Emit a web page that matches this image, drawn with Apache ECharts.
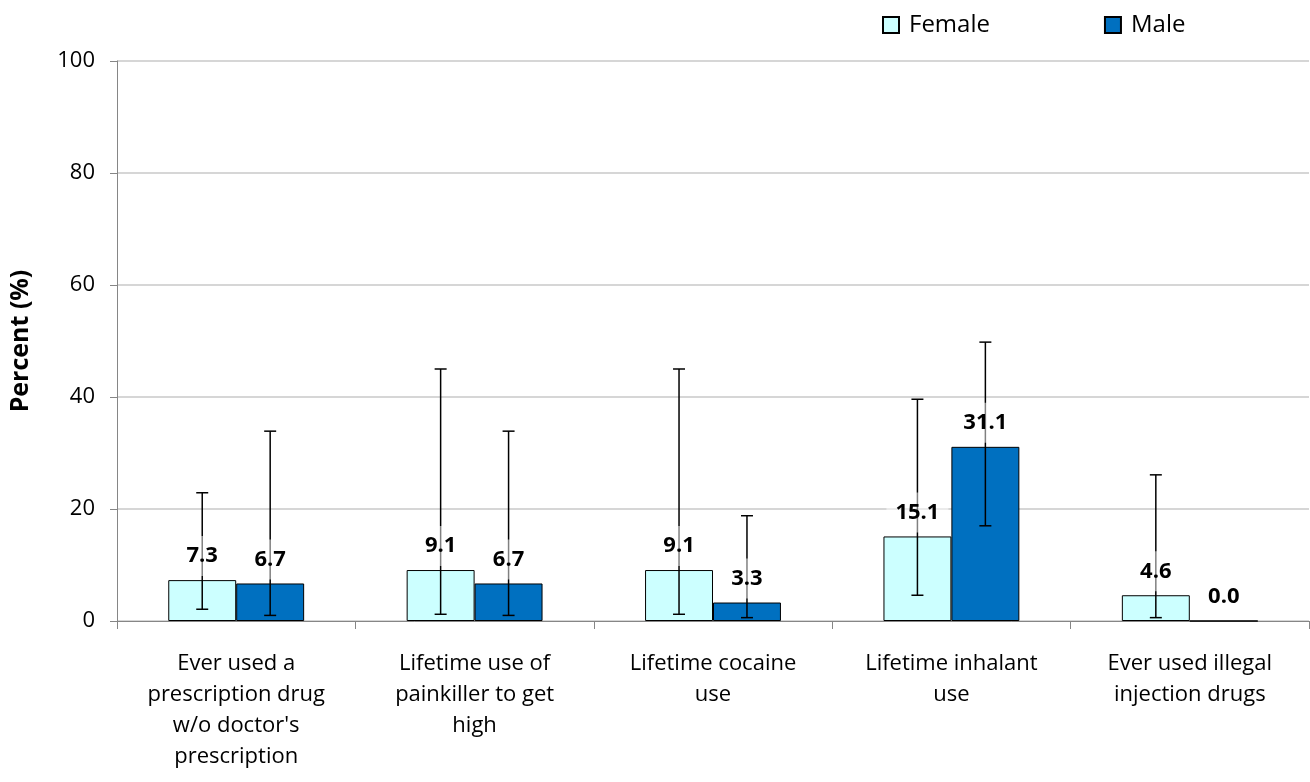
<!DOCTYPE html>
<html>
<head>
<meta charset="utf-8">
<script src="https://cdn.jsdelivr.net/npm/echarts@6/dist/echarts.min.js"></script>
<style>
    html, body { margin: 0; padding: 0; background: #fff; }
    #chart { width: 1310px; height: 782px; }
</style>
</head>
<body>
<div id="chart"></div>
<script>
var categories = [
    "Ever used a\nprescription drug\nw/o doctor's\nprescription",
    "Lifetime use of\npainkiller to get\nhigh",
    "Lifetime cocaine\nuse",
    "Lifetime inhalant\nuse",
    "Ever used illegal\ninjection drugs"
];
var femaleValues = [7.3, 9.1, 9.1, 15.1, 4.6];
var maleValues = [6.7, 6.7, 3.3, 31.1, 0.0];
// intervalles de confiance
var femaleLow = [2.1, 1.2, 1.2, 4.6, 0.6];
var femaleHigh = [22.9, 45.0, 45.0, 39.6, 26.1];
var maleLow = [1.0, 1.0, 0.6, 17.0, null];
var maleHigh = [33.9, 33.9, 18.8, 49.8, null];
var yTicks = [0, 20, 40, 60, 80, 100];

var FONT = '"Open Sans", "Noto Sans", sans-serif';
var GAP = 0.43;

// données pour les barres d'erreur + étiquettes
function errorData(vals, lows, highs) {
    var arr = [];
    for (var i = 0; i < vals.length; i++) {
        arr.push([i, lows[i], highs[i], vals[i]]);
    }
    return arr;
}

function makeRender(side) {
    return function (params, api) {
        var idx = api.value(0);
        var lo = api.value(1);
        var hi = api.value(2);
        var v = api.value(3);
        var band = api.size([1, 0])[0];
        var off = band * (1 - GAP) / 4 * side;
        var vp = api.coord([idx, v]);
        var x = vp[0] + off;
        var children = [];
        var lineStyle = { stroke: '#000', lineWidth: 1.5 };
        if (!isNaN(lo) && !isNaN(hi) && lo !== null && hi !== null) {
            var top = api.coord([idx, hi])[1];
            var bot = api.coord([idx, lo])[1];
            children.push({ type: 'line', shape: { x1: x, y1: top, x2: x, y2: bot }, style: lineStyle });
            children.push({ type: 'line', shape: { x1: x - 6, y1: top, x2: x + 6, y2: top }, style: lineStyle });
            children.push({ type: 'line', shape: { x1: x - 6, y1: bot, x2: x + 6, y2: bot }, style: lineStyle });
        }
        children.push({
            type: 'text',
            x: x,
            y: vp[1] - 24,
            z2: 10,
            style: {
                text: v.toFixed(1),
                fill: '#000',
                font: 'bold 22px ' + FONT,
                align: 'center',
                verticalAlign: 'middle',
                backgroundColor: 'rgba(255,255,255,0.5)',
                padding: [9, 9]
            }
        });
        return { type: 'group', children: children };
    };
}

var myChart = echarts.init(document.getElementById('chart'));
var option = {
    animation: false,
    backgroundColor: '#fff',
    grid: { left: 115, right: 1, top: 61, bottom: 161 },
    legend: {
        left: 877,
        top: 8,
        icon: 'rect',
        itemWidth: 16,
        itemHeight: 16,
        itemGap: 114,
        data: ['Female', 'Male'],
        textStyle: { fontFamily: FONT, fontSize: 24, color: '#000', padding: [0, 0, 0, 5] }
    },
    xAxis: {
        type: 'category',
        data: categories,
        axisLine: { lineStyle: { color: '#868686', width: 1 } },
        axisTick: { show: true, length: 8, lineStyle: { color: '#868686' } },
        axisLabel: {
            interval: 0,
            margin: 27,
            color: '#000',
            fontFamily: FONT,
            fontSize: 22,
            lineHeight: 31
        }
    },
    yAxis: {
        type: 'value',
        min: 0,
        max: 100,
        interval: 20,
        name: 'Percent (%)',
        nameLocation: 'middle',
        nameGap: 84,
        nameTextStyle: { fontFamily: FONT, fontSize: 25, fontWeight: 'bold', color: '#000' },
        axisLine: { show: true, lineStyle: { color: '#868686', width: 1 } },
        axisTick: { show: true, length: 7, lineStyle: { color: '#868686' } },
        splitLine: { lineStyle: { color: '#c8c8c8', width: 1.5 } },
        axisLabel: {
            margin: 22,
            color: '#000',
            fontFamily: FONT,
            fontSize: 22,
            formatter: function (val) { return yTicks.indexOf(val) >= 0 ? String(val) : ''; }
        }
    },
    series: [
        {
            name: 'Female',
            type: 'bar',
            z: 2,
            barGap: 0,
            barCategoryGap: (GAP * 100) + '%',
            data: femaleValues,
            itemStyle: { color: '#ccffff', borderColor: '#000', borderWidth: 1 }
        },
        {
            name: 'Male',
            type: 'bar',
            z: 2,
            barGap: 0,
            barCategoryGap: (GAP * 100) + '%',
            data: maleValues,
            itemStyle: { color: '#0070c0', borderColor: '#000', borderWidth: 1 }
        },
        {
            name: 'Female CI',
            type: 'custom',
            z: 3,
            renderItem: makeRender(-1),
            encode: { x: 0, y: [1, 2, 3] },
            data: errorData(femaleValues, femaleLow, femaleHigh)
        },
        {
            name: 'Male CI',
            type: 'custom',
            z: 3,
            renderItem: makeRender(1),
            encode: { x: 0, y: [1, 2, 3] },
            data: errorData(maleValues, maleLow, maleHigh)
        }
    ]
};
myChart.setOption(option);
</script>
</body>
</html>
